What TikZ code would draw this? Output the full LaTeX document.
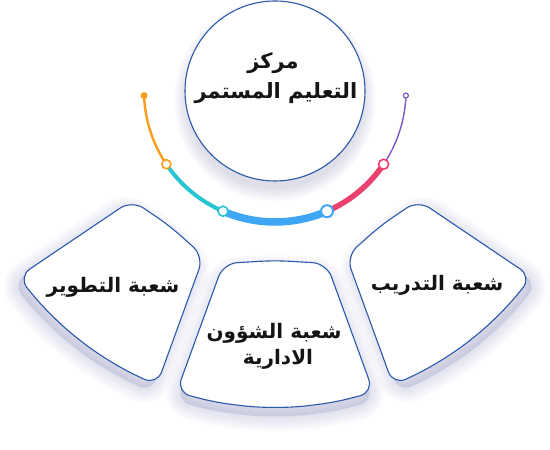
\documentclass[tikz,border=0pt]{standalone}
\usepackage{fontspec}
\TeXXeTstate=1
\newfontfamily\arabicfont[Script=Arabic]{DejaVu Sans}
\definecolor{edgeblue}{RGB}{42,88,170}
\definecolor{shadowc}{RGB}{110,110,170}
\definecolor{orangec}{RGB}{247,158,27}
\definecolor{cyanc}{RGB}{40,196,210}
\definecolor{bluec}{RGB}{62,166,244}
\definecolor{redc}{RGB}{234,64,110}
\definecolor{purplec}{RGB}{126,88,196}
\definecolor{textc}{RGB}{20,20,20}
\newcommand\gapd{10.5}
\newcommand\rin{180}
\newcommand\rout{317}
\newcommand\bul{3}
\newcommand\tileshape[3]{%
  \pgfmathsetmacro\aia{#2+asin(\gapd/\rin)}%
  \pgfmathsetmacro\aib{#3-asin(\gapd/\rin)}%
  \pgfmathsetmacro\aoa{#2+asin(\gapd/\rout)}%
  \pgfmathsetmacro\aob{#3-asin(\gapd/\rout)}%
  \pgfmathsetmacro\amid{(#2+#3)/2}%
  \pgfmathsetmacro\Ax{\rin*cos(\aia)}\pgfmathsetmacro\Ay{\rin*sin(\aia)}%
  \pgfmathsetmacro\Bx{\rin*cos(\aib)}\pgfmathsetmacro\By{\rin*sin(\aib)}%
  \pgfmathsetmacro\Mx{(\Ax+\Bx)/2-\bul*cos(\amid)}\pgfmathsetmacro\My{(\Ay+\By)/2-\bul*sin(\amid)}%
  \path[#1] (\Ax,\Ay) -- (\Mx,\My) -- (\Bx,\By)
     -- (\aob:\rout) \foreach \k in {1,...,5}{ -- ({\aob+(\aoa-\aob)*\k/5}:\rout) } -- cycle;%
}
\tikzset{
  tile/.style={draw=edgeblue, fill=white, line width=1.1pt, rounded corners=14pt},
  tileshadow/.style={draw=shadowc, fill=shadowc, opacity=0.024, rounded corners=14pt, line join=round},
  lbl/.style={font=\arabicfont\bfseries\fontsize{20}{28}\selectfont, text=textc, align=center, inner sep=0pt},
  ring/.style={fill=white, line width=1.6pt, circle, inner sep=0pt},
}
\begin{document}
\begin{tikzpicture}[x=1pt,y=1pt]
\useasboundingbox (0,0) rectangle (550,450);
\fill[white] (0,0) rectangle (550,450);

% tiles around the centre of the circle
\begin{scope}[shift={(275,359)}]
  \foreach \ph/\pa/\pb in {232/214/250, 270/250/290, 308/290/326}{
    \foreach \w in {2,6,10,14,18,22,26,30}{
      \begin{scope}[shift={(\ph:9)}]
        \tileshape{tileshadow, line width=\w pt}{\pa}{\pb}
      \end{scope}
    }
    \tileshape{tile}{\pa}{\pb}
  }
\end{scope}

% circle shadow and circle
\foreach \w in {2,6,10,14,18,22,26}{
  \fill[shadowc, opacity=0.03] (275,350) circle[radius=88+\w/2];
}
\node[circle, draw=edgeblue, fill=white, line width=1.1pt, minimum size=180pt, inner sep=0pt] (centre) at (275,359) {};

% coloured arc
\begin{scope}[shift={(275,359)}]
  \coordinate (m0) at (182:131);
  \coordinate (m1) at (214:131);
  \coordinate (m2) at (246.6:131);
  \coordinate (m3) at (293.4:131);
  \coordinate (m4) at (326:131);
  \coordinate (m5) at (358:131);
  \draw[orangec, line width=2.4pt] (m0) arc[start angle=182, end angle=214, radius=131];
  \draw[cyanc, line width=4pt] (m1) arc[start angle=214, end angle=246.6, radius=131];
  \draw[bluec, line width=7.5pt] (m2) arc[start angle=246.6, end angle=293.4, radius=131];
  \draw[redc, line width=5.5pt] (m3) arc[start angle=293.4, end angle=326, radius=131];
  \draw[purplec, line width=1.4pt] (m4) arc[start angle=326, end angle=358, radius=131];
  \node[circle, fill=orangec, minimum size=7pt, inner sep=0pt] (d0) at (m0) {};
  \node[ring, draw=orangec, minimum size=9pt] (d1) at (m1) {};
  \node[ring, draw=cyanc, minimum size=10pt] (d2) at (m2) {};
  \node[ring, draw=bluec, minimum size=12pt, line width=2pt] (d3) at (m3) {};
  \node[ring, draw=redc, minimum size=10pt] (d4) at (m4) {};
  \node[ring, draw=purplec, minimum size=5pt, line width=1.2pt] (d5) at (m5) {};
\end{scope}

% labels
\node[lbl, font=\arabicfont\bfseries\fontsize{21}{28}\selectfont] (t1) at (273,387) {\beginR مركز\endR};
\node[lbl, font=\arabicfont\bfseries\fontsize{21}{28}\selectfont] (t2) at (276,357) {\beginR التعليم المستمر\endR};
\node[lbl] (left) at (113,163) {\beginR شعبة التطوير\endR};
\node[lbl] (mid1) at (274,117) {\beginR شعبة الشؤون\endR};
\node[lbl] (mid2) at (278,91) {\beginR الادارية\endR};
\node[lbl] (right) at (437,165) {\beginR شعبة التدريب\endR};
\end{tikzpicture}
\end{document}
